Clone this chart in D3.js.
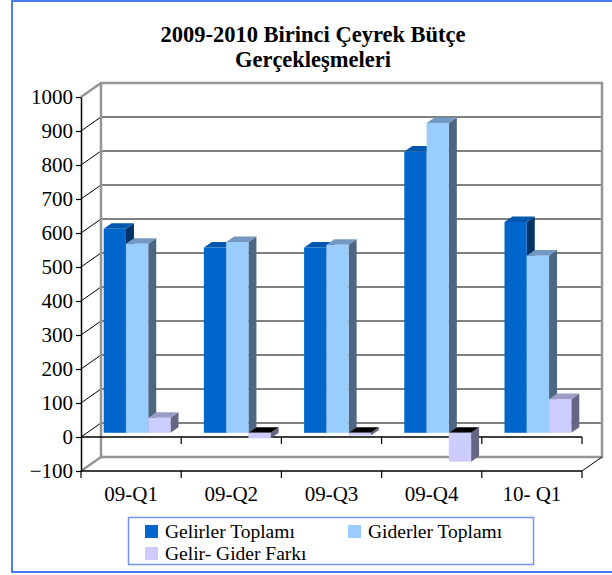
<!DOCTYPE html>
<html>
<head>
<meta charset="utf-8">
<script src="https://cdn.jsdelivr.net/npm/d3@7"></script>
<style>
  body { margin: 0; background: #fff; }
</style>
</head>
<body>
<div id="chart"></div>
<script>
// 3d clustered column chart, excel style

var categories = ["09-Q1", "09-Q2", "09-Q3", "09-Q4", "10- Q1"];
var seriesNames = ["Gelirler Toplamı", "Giderler Toplamı", "Gelir- Gider Farkı"];
var gelirler = [600, 545, 545, 827, 620];
var giderler = [556, 561, 553, 911, 521];
var fark = [44, -16, -8, -85, 99];
var yTicks = [-100, 0, 100, 200, 300, 400, 500, 600, 700, 800, 900, 1000];

var values = [gelirler, giderler, fark];
// front, top, side shades
var colors = [
    {front: "#0066cc", top: "#0057ad", side: "#003366"},
    {front: "#99ccff", top: "#7399c2", side: "#4d6682"},
    {front: "#ccccff", top: "#9c9cc6", side: "#666684"}
];

var serif = "'Liberation Serif', Tinos, 'Times New Roman', 'DejaVu Serif', serif";
var width = 612, height = 575;
var dx = 20, dy = -14;   // depth of the floor / walls

var svg = d3.select("#chart")
    .append("svg")
        .attr("width", width)
        .attr("height", height)
        .attr("font-family", serif);

// outer border
svg.append("rect")
    .attr("x", 12).attr("y", 1)
    .attr("width", 610).attr("height", 571)
    .attr("fill", "none")
    .attr("stroke", "#4d7cf2")
    .attr("stroke-width", 2);

// title
svg.append("text")
    .attr("x", 313).attr("y", 42)
    .attr("text-anchor", "middle")
    .attr("font-family", serif)
    .attr("font-size", 22.5).attr("font-weight", "bold")
    .text("2009-2010 Birinci Çeyrek Bütçe");
svg.append("text")
    .attr("x", 313).attr("y", 67)
    .attr("text-anchor", "middle")
    .attr("font-family", serif)
    .attr("font-size", 22.5).attr("font-weight", "bold")
    .text("Gerçekleşmeleri");

var x = d3.scaleBand()
    .domain(categories)
    .range([81, 582]);

var y = d3.scaleLinear()
    .domain([-100, 1000])
    .range([471, 97]);

var x0 = x.range()[0], x1 = x.range()[1];

// back wall gridlines
svg.append("g")
    .selectAll("line")
    .data(yTicks.filter(function(d) { return d >= 0 && d < 1000; }))
    .enter()
    .append("line")
        .attr("x1", x0 + dx).attr("x2", x1 + dx)
        .attr("y1", function(d) { return y(d) + dy; })
        .attr("y2", function(d) { return y(d) + dy; })
        .attr("stroke", "#000").attr("stroke-width", 1);

// side wall diagonals
svg.append("g")
    .selectAll("line")
    .data(yTicks.filter(function(d) { return d >= 0 && d < 1000; }))
    .enter()
    .append("line")
        .attr("x1", x0).attr("x2", x0 + dx)
        .attr("y1", function(d) { return y(d); })
        .attr("y2", function(d) { return y(d) + dy; })
        .attr("stroke", "#000").attr("stroke-width", 1);

// wall frame (gray)
var gray = "#959595";
var frame = [
    [[x0, y(1000)], [x0 + dx, y(1000) + dy], [x1 + dx, y(1000) + dy], [x1 + dx, y(-100) + dy], [x0 + dx, y(-100) + dy], [x0 + dx, y(1000) + dy]],
    [[x0, y(-100)], [x0 + dx, y(-100) + dy]]
];
frame.forEach(function(pts) {
    svg.append("path")
        .attr("d", d3.line()(pts))
        .attr("fill", "none")
        .attr("stroke", gray)
        .attr("stroke-width", 2.5);
});

// floor right edge
svg.append("line")
    .attr("x1", x1).attr("y1", y(-100))
    .attr("x2", x1 + dx).attr("y2", y(-100) + dy)
    .attr("stroke", "#000");

// category lines at 0 and at -100 with ticks
[0, -100].forEach(function(v) {
    svg.append("line")
        .attr("x1", x0).attr("x2", x1)
        .attr("y1", y(v)).attr("y2", y(v))
        .attr("stroke", "#000").attr("stroke-width", 1.5);
    svg.append("g")
        .selectAll("line")
        .data(categories)
        .enter()
        .append("line")
            .attr("x1", function(d) { return x(d) + x.bandwidth(); })
            .attr("x2", function(d) { return x(d) + x.bandwidth(); })
            .attr("y1", y(v)).attr("y2", y(v) + 7)
            .attr("stroke", "#000").attr("stroke-width", 1.2);
});
svg.append("line")
    .attr("x1", x0).attr("x2", x0)
    .attr("y1", y(-100)).attr("y2", y(-100) + 7)
    .attr("stroke", "#000").attr("stroke-width", 1.2);

// y axis on the front plane
var yAxis = svg.append("g")
    .attr("transform", "translate(" + x0 + ",0)")
    .call(d3.axisLeft(y).tickValues(yTicks).tickFormat(d3.format("d"))
        .tickSize(5).tickSizeOuter(0).tickPadding(3));
yAxis.attr("font-family", serif).attr("font-size", 21);
yAxis.select(".domain").attr("stroke", "#000").attr("stroke-width", 1.5);
yAxis.selectAll(".tick line").attr("stroke", "#000").attr("stroke-width", 1.2);
yAxis.selectAll("text").attr("fill", "#000");

// category labels
svg.append("g")
    .selectAll("text")
    .data(categories)
    .enter()
    .append("text")
        .attr("x", function(d) { return x(d) + x.bandwidth() / 2; })
        .attr("y", 501)
        .attr("text-anchor", "middle")
        .attr("font-family", serif)
        .attr("font-size", 21)
        .text(function(d) { return d; });

// bars
var w = x.bandwidth() / 4.5;
var fIn = 0.3, fOut = 0.7;   // bar front / back inside the depth
var bdx = dx * (fOut - fIn), bdy = dy * (fOut - fIn);
var bars = svg.append("g");

categories.forEach(function(cat, ci) {
    values.forEach(function(vals, si) {
        var v = vals[ci];
        var left = x(cat) + 0.75 * w + si * w + dx * fIn;
        var right = left + w;
        var yb = y(0) + dy * fIn;
        var yt = y(v) + dy * fIn;
        var c = colors[si];
        var hi = Math.min(yb, yt), lo = Math.max(yb, yt);
        // side face
        bars.append("path")
            .attr("d", d3.line()([[right, hi], [right + bdx, hi + bdy], [right + bdx, lo + bdy], [right, lo]]) + "Z")
            .attr("fill", c.side);
        // top face (at zero level for negative values)
        bars.append("path")
            .attr("d", d3.line()([[left, hi], [left + bdx, hi + bdy], [right + bdx, hi + bdy], [right, hi]]) + "Z")
            .attr("fill", v < 0 ? "#000" : c.top);
        // front face
        bars.append("rect")
            .attr("x", left).attr("y", hi)
            .attr("width", w).attr("height", lo - hi)
            .attr("fill", c.front);
    });
});

// legend
var legend = svg.append("g");
legend.append("rect")
    .attr("x", 128.5).attr("y", 517.5)
    .attr("width", 405).attr("height", 47)
    .attr("fill", "#fff")
    .attr("stroke", "#7495f5")
    .attr("stroke-width", 1.5);
var legendPos = [[145, 525], [348, 525], [145, 547]];
seriesNames.forEach(function(name, i) {
    legend.append("rect")
        .attr("x", legendPos[i][0]).attr("y", legendPos[i][1])
        .attr("width", 13).attr("height", 13)
        .attr("fill", colors[i].front);
    legend.append("text")
        .attr("x", legendPos[i][0] + 20).attr("y", legendPos[i][1] + 13)
        .attr("font-family", serif)
        .attr("font-size", 19.5)
        .text(name);
});
</script>
</body>
</html>
